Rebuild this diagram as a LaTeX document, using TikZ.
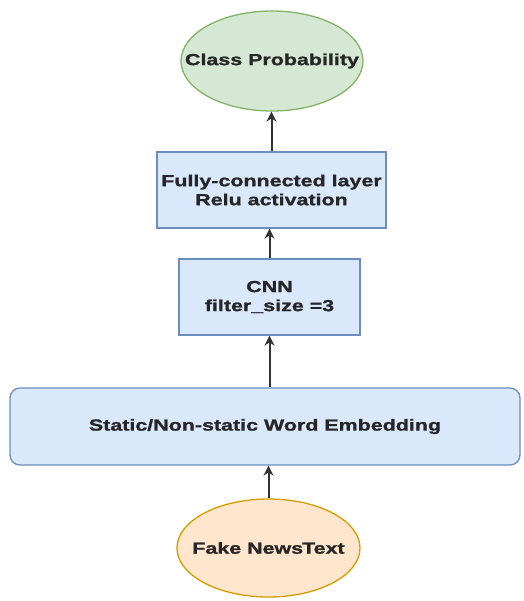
\documentclass[tikz,border=0pt]{standalone}
\usepackage{fontspec}
\setmainfont{Liberation Sans}
\newfontfamily\widefont[FakeStretch=1.34,FakeBold=1.2]{Liberation Sans Bold}
\usetikzlibrary{shapes.geometric,arrows.meta}

\definecolor{greenfill}{HTML}{D5E8D4}
\definecolor{greenline}{HTML}{82B366}
\definecolor{bluefill}{HTML}{DAE8FC}
\definecolor{blueline}{HTML}{6C8EBF}
\definecolor{orangefill}{HTML}{FFE6CC}
\definecolor{orangeline}{HTML}{D79B00}
\newcommand{\lbl}{\widefont\fontsize{16}{19}\selectfont\color{black!85}}

\begin{document}
\begin{tikzpicture}[x=1pt,y=1pt,
   layer/.style={draw=blueline,fill=bluefill,line width=1.3pt,align=center,inner sep=0pt,font=\lbl},
   blob/.style={ellipse,line width=1.3pt,align=center,inner xsep=-25pt,inner ysep=0pt,font=\lbl},
   flow/.style={-{Stealth[length=10pt,width=10pt]},line width=2pt,draw=black!80}]
   \useasboundingbox (0,0) rectangle (523,-601);
   % output and layers, top to bottom
   \node[blob,draw=greenline,fill=greenfill,minimum width=182,minimum height=100] (prob) at (272,-61) {Class Probability};
   \node[layer,minimum width=229,minimum height=76] (fc) at (271.5,-190) {Fully-connected layer\\Relu activation};
   \node[layer,minimum width=181,minimum height=76] (cnn) at (269.5,-297) {CNN\\filter\_size =3};
   \node[layer,rounded corners=10,minimum width=510,minimum height=77] (emb) at (265,-426.5) {Static/Non-static Word Embedding};
   \node[blob,draw=orangeline,fill=orangefill,minimum width=183,minimum height=98] (fake) at (268.5,-548) {Fake News\kern-1pt Text};
   % connectors
   \draw[flow] (fake.north) -- (fake.north |- emb.south);
   \draw[flow] (emb.north -| cnn.south) -- (cnn.south);
   \draw[flow] (cnn.north) -- (cnn.north |- fc.south);
   \draw[flow] (fc.north) -- (fc.north |- prob.south);
\end{tikzpicture}
\end{document}
